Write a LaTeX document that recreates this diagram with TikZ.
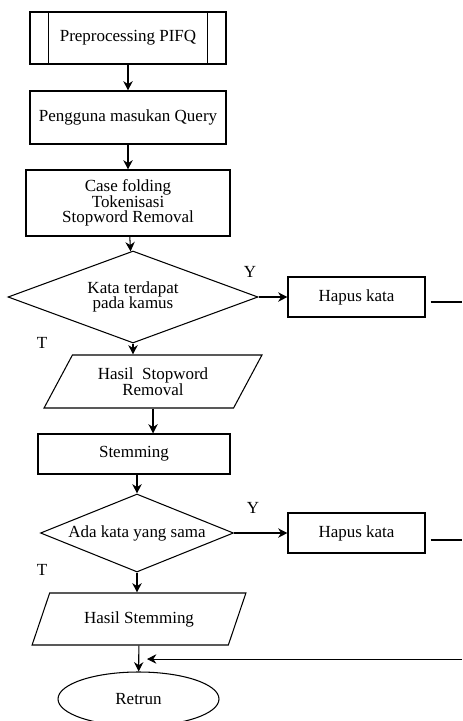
\documentclass[tikz,border=0pt]{standalone}
\usepackage{fontspec}
\setmainfont{Liberation Serif}
\usetikzlibrary{shapes.geometric, arrows.meta}

\begin{document}
\begin{tikzpicture}[x=0.03cm, y=-0.03cm, line width=0.9pt, >={Stealth[length=8pt, width=8pt]},
    every node/.style={font=\fontsize{14.5}{13.5}\selectfont, align=center},
    mybox/.style={draw, rectangle, inner sep=0},
    mydecision/.style={draw, diamond, inner sep=0},
    myio/.style={draw, trapezium, trapezium left angle=55, trapezium right angle=125, trapezium stretches=true, inner sep=0},
    myend/.style={draw, ellipse, inner sep=0},
    mylabel/.style={inner sep=0}]
  \useasboundingbox (0,0) rectangle (462,721);
  \node [mybox, minimum width=5.88cm, minimum height=1.56cm] (pre) at (128,38) {Preprocessing PIFQ};
  \draw ([xshift=0.57cm]pre.north west) -- ([xshift=0.57cm]pre.south west);
  \draw ([xshift=-0.57cm]pre.north east) -- ([xshift=-0.57cm]pre.south east);
  \node [mybox, minimum width=5.88cm, minimum height=1.59cm] (query) at (128,117.5) {Pengguna masukan Query};
  \node [mybox, minimum width=6.12cm, minimum height=1.98cm] (case) at (128,203) {Case folding\\Tokenisasi\\Stopword Removal};
  \node [mydecision, shape aspect=2.72, minimum width=7.5cm, minimum height=2.76cm] (cek) at (133,297) {Kata terdapat\\pada kamus};
  \node [mybox, minimum width=4.11cm, minimum height=1.2cm] (hapusA) at (356.5,297) {Hapus kata};
  \node [myio, minimum width=6.54cm, minimum height=1.59cm] (hasilA) at (153,381.5) {Hasil~ Stopword\\Removal};
  \node [mybox, minimum width=5.76cm, minimum height=1.2cm] (stem) at (134,454) {Stemming};
  \node [mydecision, shape aspect=2.47, minimum width=5.79cm, minimum height=2.34cm] (sama) at (137,533) {Ada kata yang sama};
  \node [mybox, minimum width=4.11cm, minimum height=1.2cm] (hapusB) at (356.5,533) {Hapus kata};
  \node [myio, minimum width=6.42cm, minimum height=1.56cm] (hasilB) at (139,619) {Hasil Stemming};
  \node [myend, minimum width=4.83cm, minimum height=1.62cm] (ret) at (138.5,699) {Retrun};
  \node [mylabel] (yA) at (250,272) {Y};
  \node [mylabel] (tA) at (42,343) {T};
  \node [mylabel] (yB) at (253,508) {Y};
  \node [mylabel] (tB) at (42,570) {T};
  \coordinate (outA) at (462,302);
  \coordinate (outB) at (462,540);
  \coordinate (back) at (462,659);
  \coordinate (join) at (147,659);
  \foreach \a/\b in {pre/query, query/case, case/cek, hasilB/ret} {\draw [->] (\a) -- (\b);};
  \draw [->] (cek.south) -- (cek.south |- hasilA.north);
  \draw [->] (hasilA.south) -- (hasilA.south |- stem.north);
  \draw [->] (sama.north |- stem.south) -- (sama.north);
  \draw [->] (sama.south) -- (sama.south |- hasilB.north);
  \draw [->] (cek.east) -- (hapusA.west);
  \draw [->] (sama.east) -- (hapusB.west);
  \draw ([xshift=0.15cm]hapusA.east |- outA) -- (outA);
  \draw ([xshift=0.15cm]hapusB.east |- outB) -- (outB);
  \draw [->, line width=0.7pt] (back) -- (join);
\end{tikzpicture}
\end{document}
